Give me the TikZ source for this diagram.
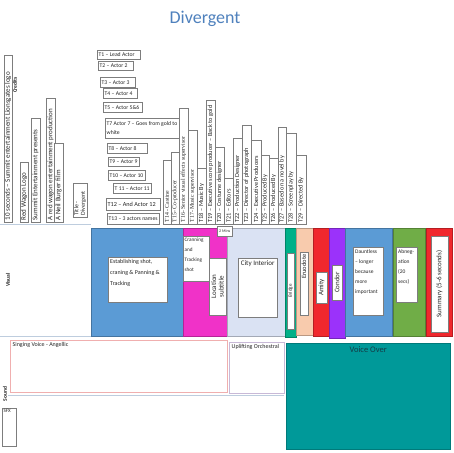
\documentclass[tikz,border=0pt]{standalone}
\usepackage{fontspec}
\setmainfont{Carlito}
\newfontfamily\cambria{Liberation Serif}
\definecolor{boxgray}{RGB}{125,125,125}
\definecolor{sepblue}{RGB}{190,205,222}
\definecolor{titleblue}{RGB}{79,129,189}
\definecolor{officeblue}{RGB}{91,155,213}
\definecolor{hotpink}{RGB}{240,50,200}
\definecolor{paleblue}{RGB}{218,226,243}
\definecolor{bridgegreen}{RGB}{0,176,136}
\definecolor{peach}{RGB}{248,203,173}
\definecolor{amityred}{RGB}{240,40,45}
\definecolor{condorpurple}{RGB}{155,50,250}
\definecolor{abngreen}{RGB}{112,173,71}
\definecolor{voteal}{RGB}{0,153,153}
\definecolor{votext}{RGB}{20,60,70}
\definecolor{singred}{RGB}{240,175,175}
\definecolor{uplilac}{RGB}{200,185,215}
\newlength\padlen
\newcommand\padl[2]{\settowidth\padlen{#2}\ifdim\padlen<#1\relax\makebox[#1][l]{#2}\else#2\fi}
\newcommand\tbx[3]{\parbox[t][#1][t]{#2}{#3}}
\begin{document}
\begin{tikzpicture}[x=1pt,y=-1pt,
  every node/.style={text=black!85},
  ht/.style={draw=boxgray, fill=white, anchor=north west, inner xsep=1.5pt, inner ysep=0pt, font=\fontsize{5.7}{6.5}\selectfont},
  vt/.style={draw=boxgray, fill=white, rotate=90, anchor=west, inner xsep=1.5pt, inner ysep=0pt, minimum height=8.5pt, font=\fontsize{6.3}{7}\selectfont},
  vs/.style={vt, font=\cambria\fontsize{5.8}{7}\selectfont},
  lc/.style={vt, font=\fontsize{7}{8}\selectfont},
  col/.style={anchor=north west, inner sep=0pt, draw=#1!75!black, fill=#1, line width=0.4pt},
  wb/.style={draw=boxgray, fill=white, anchor=north west, inner sep=2pt, align=left},
  rb/.style={draw=boxgray, fill=white, rotate=90, anchor=center, inner sep=0pt, align=center},
  rowlab/.style={rotate=90, inner sep=0pt, font=\bfseries\fontsize{5.5}{6}\selectfont},
  sep/.style={draw=sepblue, line width=0.6pt}
]
\fill[white] (0,0) rectangle (453,453);
\useasboundingbox (0,0) rectangle (453,453);

% title
\node[font=\fontsize{18}{20}\selectfont, text=titleblue] (title) at (205,19) {Divergent};

% row labels
\node[rowlab] (credits) at (15,85) {Credits};
\node[rowlab] (visual) at (8,280) {Visual};
\node[rowlab] (sound) at (5,394) {Sound};

% separators
\coordinate (s1a) at (0,224); \coordinate (s1b) at (91,224);
\coordinate (s2a) at (0,336); \coordinate (s2b) at (91,336);
\coordinate (s3a) at (8,395); \coordinate (s3b) at (284,395);
\draw[sep] (s1a) -- (s1b);
\draw[sep] (s2a) -- (s2b);
\draw[sep] (s3a) -- (s3b);

% left credit boxes
\node[lc] (c1) at (8,222) {\padl{164pt}{10 seconds – Summit entertainment Lionsgates logo}};
\node[lc] (c2) at (24,222) {\padl{57pt}{Red Wagon Logo}};
\node[lc] (c3) at (35.5,222) {\padl{101pt}{Summit Entertainment presents}};
\node[lc] (c4) at (50.5,222) {\padl{121pt}{A red wagon entertainment production}};
\node[lc] (c5) at (58.5,222) {\padl{76pt}{A Neil Burger film}};
\node[vt, align=left, minimum height=14pt, font=\fontsize{6}{6.5}\selectfont] (c6) at (80,217) {\padl{31pt}{Title -}\\Divergent};

% horizontal title boxes
\node[ht, minimum height=9] (t1) at (97,50) {\padl{40pt}{T1 – Lead Actor}};
\node[ht, minimum height=9] (t2) at (98,61) {\padl{32pt}{T2 – Actor 2}};
\node[ht, minimum height=10] (t3) at (100,77) {\padl{32pt}{T3 – Actor 3}};
\node[ht, minimum height=10] (t4) at (103,88) {\padl{31pt}{T4 – Actor 4}};
\node[ht, minimum height=10] (t5) at (103,102) {\padl{36pt}{T5 – Actor 5\&6}};
\node[ht, minimum height=20, align=left, font=\fontsize{5.7}{9}\selectfont] (t7) at (105,118) {\padl{69pt}{T7 Actor 7 – Goes from gold to}\\white};
\node[ht, minimum height=10] (t8) at (107,143) {\padl{37pt}{T8 – Actor 8}};
\node[ht, minimum height=9] (t9) at (108,157) {\padl{27pt}{T9 – Actor 9}};
\node[ht, minimum height=10] (t10) at (108,170) {\padl{34pt}{T10 – Actor 10}};
\node[ht, minimum height=10] (t11) at (113,183) {\padl{34pt}{T 11 – Actor 11}};
\node[ht, minimum height=12, font=\fontsize{6.2}{7}\selectfont] (t12) at (106,198) {\padl{51pt}{T12 –  And Actor 12}};
\node[ht, minimum height=11] (t13) at (107,213) {\padl{48pt}{T13 – 3 actors names}};

% vertical title boxes
\node[vs] (t14) at (167,224) {\padl{61pt}{T14 - Castine}};
\node[vs] (t15) at (175,224) {\padl{69pt}{T15- Co-producer}};
\node[vs] (t16) at (183.5,224) {\padl{113pt}{T16- Senior visual effects supervisor}};
\node[vs] (t17) at (192.5,224) {\padl{91pt}{T17- Music supervisor}};
\node[vt] (t18) at (201.5,224) {\padl{53pt}{T18 – Music By}};
\node[vt] (t19) at (210.5,224) {\padl{121pt}{T19 – Executive score producer – Back to gold}};
\node[vt] (t20) at (219.5,224) {\padl{74pt}{T20 – Costume designer}};
\node[vt] (t21) at (228.5,224) {\padl{43pt}{T21 – Editors}};
\node[vt] (t22) at (237.5,224) {\padl{83pt}{T22 – Production Designer}};
\node[vt] (t23) at (246.5,224) {\padl{96pt}{T23 – Director of photograph}};
\node[vt, minimum height=10pt] (t24) at (256,224) {\padl{81pt}{T24 – Executive Producers}};
\node[vt] (t25) at (265,224) {\padl{66pt}{T25 – Produced By}};
\node[vt] (t26) at (273.5,224) {\padl{63pt}{T26 – Produced By}};
\node[vt] (t27) at (282,224) {\padl{94pt}{T27 – Based on a novel by}};
\node[vt, minimum height=10pt] (t28) at (291,224) {\padl{88pt}{T28 – Screenplay by}};
\node[vt, minimum height=10pt] (t29) at (301,224) {\padl{66pt}{T29 – Directed By}};

% visual row colour blocks
\node[col=officeblue, minimum width=92, minimum height=108] (vestab) at (91,228) {};
\node[col=hotpink, minimum width=44, minimum height=108] (vpink) at (183,228) {};
\node[col=paleblue, minimum width=58, minimum height=108] (vcity) at (227,228) {};
\node[col=bridgegreen, minimum width=11, minimum height=109] (vbridge) at (285,228) {};
\node[col=peach, minimum width=17, minimum height=107] (veru) at (296,228) {};
\node[col=amityred, minimum width=16, minimum height=108] (vamity) at (313,228) {};
\node[col=condorpurple, minimum width=16, minimum height=110] (vcondor) at (329,228) {};
\node[col=officeblue, minimum width=47, minimum height=108] (vdaunt) at (345,228) {};
\node[col=abngreen, minimum width=32, minimum height=108] (vabn) at (393,228) {};
\node[col=amityred, minimum width=26, minimum height=108] (vsum) at (426,228) {};

% visual inner boxes
\node[wb, font=\fontsize{6}{11}\selectfont] (estab) at (108,257) {\tbx{41pt}{55pt}{Establishing shot,\\craning \& Panning \&\\Tracking}};
\node[wb, inner sep=1.5pt, font=\fontsize{5.2}{10}\selectfont] (crane) at (183,236) {\tbx{42pt}{23pt}{Cranning\\and\\Tracking\\shot}};
\node[rb, minimum width=57, minimum height=17, font=\fontsize{7}{7.5}\selectfont] (loc) at (217.5,286.5) {Location\\subtitle};
\node[wb, inner sep=0pt, minimum width=15, minimum height=10, font=\fontsize{4}{5}\selectfont, align=center] (mins) at (217,226) {2 Mins};
\node[wb, font=\fontsize{7}{8}\selectfont] (city) at (238,258) {\tbx{55pt}{35pt}{\centering City Interior}};
\node[rb, minimum width=76, minimum height=7, font=\fontsize{5}{6}\selectfont] (bridge) at (290.5,291) {Bridge};
\node[rb, minimum width=63, minimum height=8, font=\fontsize{6.5}{7}\selectfont] (eru) at (304,283.5) {\makebox[58pt][r]{Eruodote}};
\node[rb, minimum width=31, minimum height=11, font=\fontsize{7}{8}\selectfont] (amity) at (321.5,287.5) {Amity};
\node[rb, minimum width=35, minimum height=10, font=\fontsize{7}{8}\selectfont] (condor) at (337,282.5) {Condor};
\node[wb, font=\fontsize{5.5}{10}\selectfont] (daunt) at (353,247) {\tbx{64pt}{26pt}{Dauntless\\– longer\\because\\more\\important}};
\node[wb, font=\fontsize{5.5}{10}\selectfont] (abn) at (396,247) {\tbx{51pt}{17pt}{Abneg-\\ation\\(20\\secs)}};
\node[rb, minimum width=96, minimum height=17, font=\fontsize{7}{8}\selectfont] (summary) at (439.5,284) {Summary (5-6 seconds)};

% sound row
\node[wb, draw=singred, inner sep=2.5pt, font=\fontsize{6}{7}\selectfont] (sing) at (10,340) {\tbx{47pt}{212pt}{Singing Voice - Angellic}};
\node[wb, draw=uplilac, inner sep=2.5pt, font=\fontsize{6}{7}\selectfont] (uplift) at (229,342) {\tbx{46pt}{50pt}{Uplifting Orchestral}};
\node[wb, draw=voteal!80!black, fill=voteal, inner sep=3pt, font=\fontsize{8.5}{9}\selectfont, text=votext] (voice) at (286,343) {\tbx{100pt}{158pt}{\centering Voice Over}};
\node[wb, inner sep=1.5pt, font=\fontsize{5}{6}\selectfont] (sfx) at (2,408) {\tbx{35pt}{11pt}{SFX}};
\end{tikzpicture}
\end{document}
